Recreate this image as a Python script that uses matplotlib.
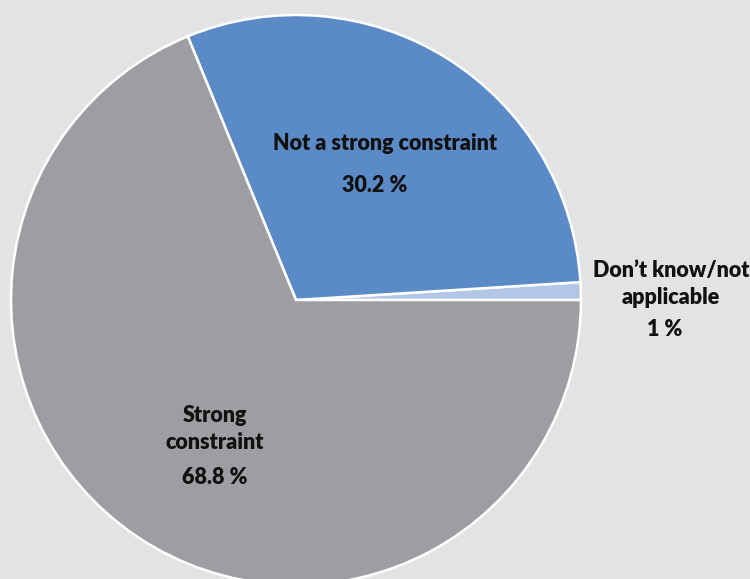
import matplotlib
matplotlib.use("Agg")
import matplotlib.pyplot as plt

categories = ["Don\u2019t know/not\napplicable", "Not a strong constraint", "Strong\nconstraint"]
values = [1.0, 30.2, 68.8]
colors = ["#b4c6e7", "#5b8bc7", "#9d9ea2"]

W, H = 750, 579
fig = plt.figure(figsize=(W / 100, H / 100), dpi=100)
bg = "#e2e3e5"
fig.patch.set_facecolor(bg)
ax = fig.add_axes([0, 0, 1, 1])
ax.set_facecolor(bg)

cx, cy, r = 296, H - 300, 285
ax.pie(values, colors=colors, startangle=0, counterclock=True,
       center=(cx, cy), radius=r, frame=True,
       wedgeprops=dict(edgecolor="white", linewidth=1.8))
ax.set_xlim(0, W)
ax.set_ylim(0, H)
ax.set_aspect("equal")
ax.axis("off")

font = dict(family=["Lato", "DejaVu Sans"], fontweight="heavy", fontsize=15.5, color="#111111")

def fmt(v):
    return f"{v:g} %"

# label positions in pixel space (x, y-from-top)
name_pos = [(671, 284), (385, 143), (215, 429)]
val_pos = [(665, 330), (375, 185), (215, 478)]
for name, v, npos, vpos in zip(categories, values, name_pos, val_pos):
    ax.text(npos[0], H - npos[1], name, ha="center", va="center", linespacing=1.3, **font)
    ax.text(vpos[0], H - vpos[1], fmt(v), ha="center", va="center", **font)

fig.savefig("out.png", dpi=100, facecolor=bg)
